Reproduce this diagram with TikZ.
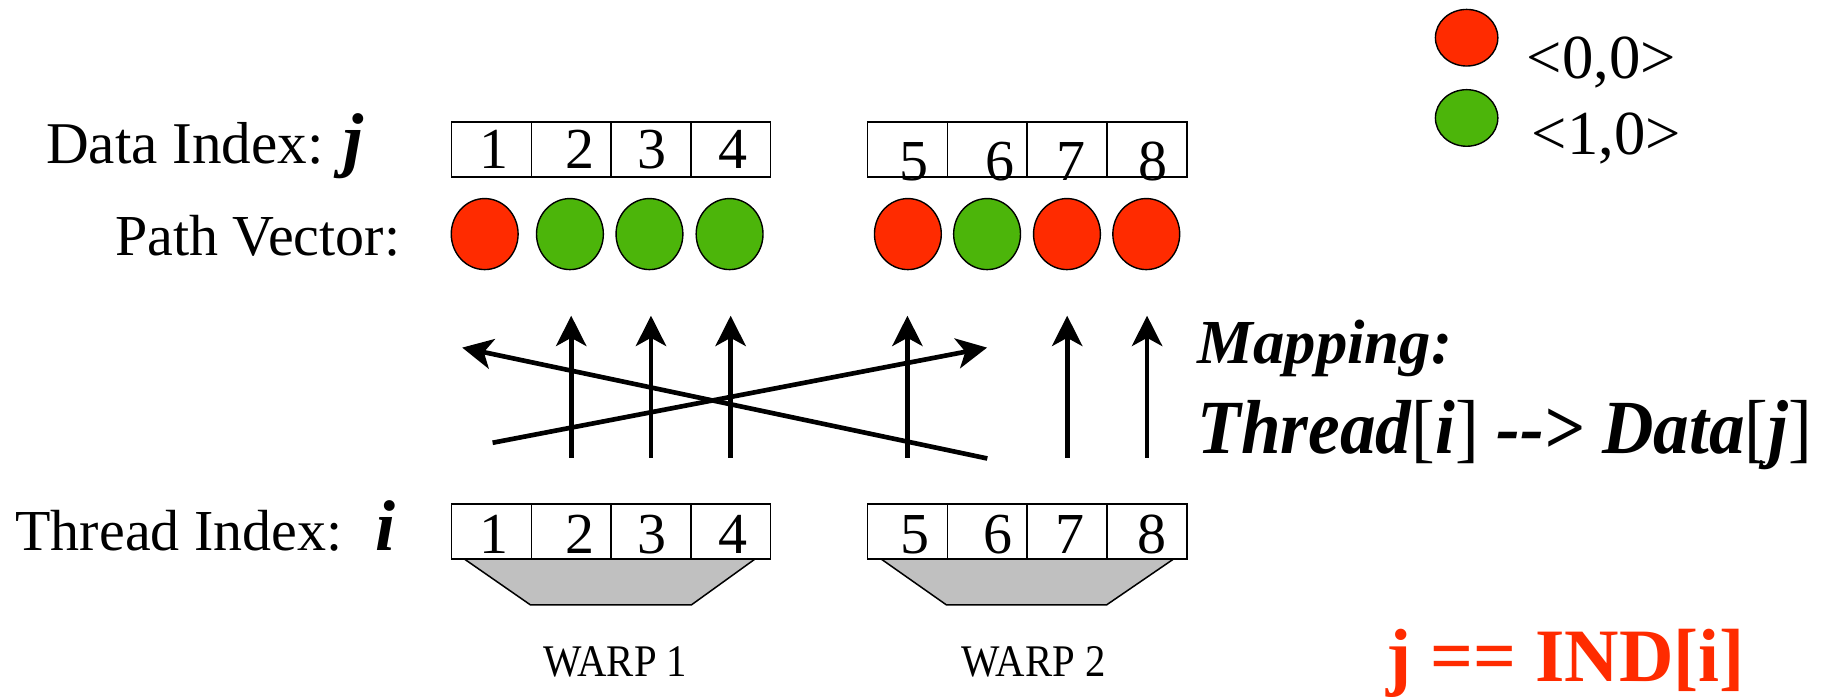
\documentclass[tikz,border=0pt]{standalone}
\usepackage{fontspec}
\setmainfont{Liberation Serif}
\usetikzlibrary{arrows.meta,shapes.geometric,calc}
\definecolor{dotred}{RGB}{255,43,0}
\definecolor{dotgreen}{RGB}{76,181,10}
\definecolor{warpgray}{RGB}{192,192,192}

\begin{document}
\begin{tikzpicture}[x=1bp,y=-1bp,
  cell/.style={draw, line width=1.3bp, minimum width=68.5bp, minimum height=47bp, inner sep=0pt, outer sep=0pt},
  num/.style={anchor=base, inner sep=0pt, font=\fontsize{50}{60}\selectfont},
  lbl/.style={anchor=base west, inner sep=0pt, font=\fontsize{50}{60}\selectfont},
  idx/.style={anchor=base west, inner sep=0pt, font=\fontsize{62}{70}\selectfont\bfseries\itshape},
  dot/.style={ellipse, draw, line width=1.2bp, inner sep=0pt, minimum width=57.4bp, minimum height=61bp},
  legdot/.style={ellipse, draw, line width=1.2bp, inner sep=0pt, minimum width=53.6bp, minimum height=48.6bp},
  warp/.style={fill=warpgray, draw, line width=1.3bp},
  warplbl/.style={anchor=base west, inner sep=0pt, font=\fontsize{39}{45}\selectfont},
  maparrow/.style={line width=4bp, -{Stealth[length=26bp,width=26bp,inset=7bp]}}
]
\useasboundingbox (0,0) rectangle (1568,598);

% warp trapezoids under the thread boxes
\draw[warp] (398.7,480) -- (455.6,519.5) -- (593.6,519.5) -- (648.4,480) -- cycle;
\draw[warp] (756.6,480) -- (812.8,519.5) -- (950.1,519.5) -- (1007.8,480) -- cycle;

% data index cells
\foreach \k/\x in {1/422,2/490.5,3/559,4/627.4,5/779.2,6/847.8,7/916.4,8/985}
  \node[cell] (d\k) at (\x,128.35) {};
% thread index cells
\foreach \k/\x in {1/422,2/490.5,3/559,4/627.4,5/779.2,6/847.8,7/916.4,8/985}
  \node[cell] (t\k) at (\x,456.4) {};

% numbers in the cells
\foreach \k/\x in {1/424,2/498,3/559.7,4/629.8}{
  \node[num] (dn\k) at (\x,144.6) {\k};
  \node[num] (tn\k) at (\x,475.2) {\k};
}
\node[num] (dn5) at (785,154.6) {5};
\node[num] (dn6) at (858.6,154.6) {6};
\node[num] (dn7) at (919.6,154.6) {7};
\node[num] (dn8) at (990,154.6) {8};
\node[num] (tn5) at (786,475.2) {5};
\node[num] (tn6) at (857.4,475.2) {6};
\node[num] (tn7) at (919,475.2) {7};
\node[num] (tn8) at (989,475.2) {8};

% path vector
\node[dot, fill=dotred]   (p1) at (416.2,201) {};
\node[dot, fill=dotgreen] (p2) at (489.4,201) {};
\node[dot, fill=dotgreen] (p3) at (557.7,201) {};
\node[dot, fill=dotgreen] (p4) at (626.5,201) {};
\node[dot, fill=dotred]   (p5) at (779.6,201) {};
\node[dot, fill=dotgreen] (p6) at (847.6,201) {};
\node[dot, fill=dotred]   (p7) at (916.2,201) {};
\node[dot, fill=dotred]   (p8) at (984.3,201) {};

% row labels
\node[lbl, font=\fontsize{51}{60}\selectfont] (dlabel) at (39.4,140.2) {Data Index:};
\node[idx] (jlabel) at (295,140.2) {j};
\node[lbl] (plabel) at (98.6,219) {Path Vector:};
\node[lbl] (tlabel) at (13.1,472.3) {Thread Index:};
\node[idx] (ilabel) at (322,472.3) {i};

% warp labels
\node[warplbl] (w1) at (466.6,581) {\scalebox{0.9}[1]{WARP 1}};
\node[warplbl] (w2) at (825.8,581) {\scalebox{0.9}[1]{WARP 2}};

% mapping arrows
\foreach \k in {2,3,4,5,7,8}
  \draw[maparrow] ($(t\k.north)+(0,-40)$) -- ($(t\k.north|-p\k.south)+(0,39)$);
\draw[maparrow] ($(t1.north)+(1,-52.7)$) -- ($(p6.south)+(0,66.4)$);
\draw[maparrow] ($(t6.north)+(0,-39.2)$) -- ($(p1.south)+(-19.3,66.4)$);

% mapping caption
\node[anchor=base west, inner sep=0pt, font=\fontsize{54}{60}\selectfont\bfseries\itshape]
  (map1) at (1028.4,312) {Mapping:};
\node[anchor=base west, inner sep=0pt, font=\fontsize{66}{72}\selectfont\bfseries\itshape]
  (map2) at (1028.4,389.3) {\scalebox{0.93}[1]{Thread{\mdseries\upshape[}i{\mdseries\upshape]} -{}-> Data{\mdseries\upshape[}j{\mdseries\upshape]}}};

% legend
\node[legdot, fill=dotred]   (lr) at (1259.4,32.4) {};
\node[legdot, fill=dotgreen] (lg) at (1259.4,101.3) {};
\node[anchor=base west, inner sep=0pt, font=\fontsize{54}{60}\selectfont] (lrt) at (1311,67.3) {<0,0>};
\node[anchor=base west, inner sep=0pt, font=\fontsize{54}{60}\selectfont] (lgt) at (1315.3,133.1) {<1,0>};

% index relation
\node[anchor=base west, inner sep=0pt, text=dotred, font=\fontsize{65}{72}\selectfont\bfseries]
  (rel) at (1190.6,585.4) {j == IND[i]};
\end{tikzpicture}
\end{document}
